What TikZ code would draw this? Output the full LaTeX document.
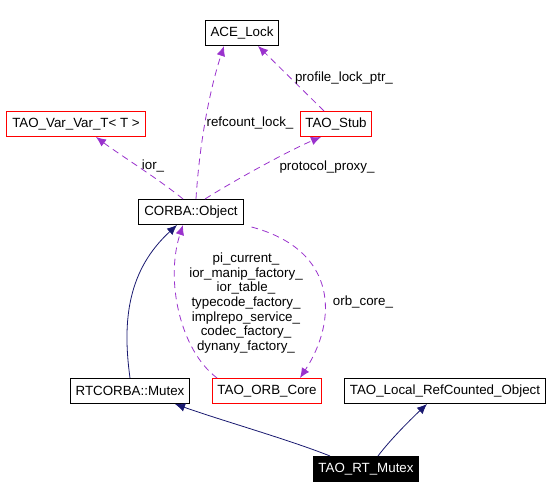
\documentclass[tikz,border=0pt]{standalone}
\usepackage{fontspec}
\setmainfont{Liberation Sans}
\usetikzlibrary{arrows.meta,calc}
\definecolor{usecolor}{HTML}{9A32CD}
\definecolor{inhcolor}{HTML}{191970}
\begin{document}
\begin{tikzpicture} [
  x=0.75pt, y=-0.75pt,
  every node/.style={font=\fontsize{10}{12}\selectfont},
  cls/.style={draw, rectangle, inner xsep=4pt, inner ysep=0pt,
    minimum height=18.75pt, line width=0.75pt},
  redcls/.style={cls, draw=red},
  thiscls/.style={cls, fill=black, text=white},
  usage/.style={draw=usecolor, line width=0.6pt, dash pattern=on 5pt off 3.5pt,
    -{Latex[length=7.5pt,width=6.5pt]}},
  inherit/.style={draw=inhcolor, line width=0.6pt,
    -{Latex[length=7.5pt,width=6.5pt]}},
  lbl/.style={inner sep=0pt}]
\useasboundingbox (0,0) rectangle (554,499);
% classes
\node[cls] (lock) at (242,33) {ACE\_Lock};
\node[redcls] (varvar) at (76,124) {TAO\_Var\_Var\_T< T >};
\node[redcls] (stub) at (336,124) {TAO\_Stub};
\node[cls] (object) at (191,212) {CORBA::Object};
\node[cls] (rtmutex) at (130,391) {RTCORBA::Mutex};
\node[redcls] (orbcore) at (267,391) {TAO\_ORB\_Core};
\node[cls] (localref) at (445,391) {TAO\_Local\_RefCounted\_Object};
\node[thiscls] (taort) at (366,469) {TAO\_RT\_Mutex};
% member usage
\draw[usage] ($(object.north)+(5,0)$) .. controls (199,150) and (208,95) .. ($(lock.south)+(-18,0)$);
\draw[usage] ($(stub.north)+(-12,0)$) -- ($(lock.south)+(16,0)$);
\draw[usage] ($(object.north)+(-8,0)$) .. controls (160,180) and (120,155) .. ($(varvar.south)+(20,0)$);
\draw[usage] ($(object.north)+(14,0)$) .. controls (235,180) and (290,150) .. ($(stub.south)+(-15,0)$);
\draw[usage] ($(orbcore.north)+(-50,0)$) .. controls (180,350) and (165,280) .. ($(object.south)+(-8,0)$);
\draw[usage] ($(object.south east)+(8,2)$) .. controls (338,250) and (338,320) .. ($(orbcore.north)+(33,0)$);
\node[lbl] (lrefcount) at (250,123) {refcount\_lock\_};
\node[lbl] (lprofile) at (344,78) {profile\_lock\_ptr\_};
\node[lbl] (lior) at (153,166) {ior\_};
\node[lbl] (lproxy) at (327,167) {protocol\_proxy\_};
\node[lbl, align=center, font=\fontsize{10}{11}\selectfont] (lmembers) at (246,303)
  {pi\_current\_\\ior\_manip\_factory\_\\ior\_table\_\\typecode\_factory\_\\implrepo\_service\_\\codec\_factory\_\\dynany\_factory\_};
\node[lbl] (lorbcore) at (363,302) {orb\_core\_};
% inheritance
\draw[inherit] (rtmutex.north) .. controls (122,320) and (128,270) .. ($(object.south)+(-14,0)$);
\draw[inherit] ($(taort.north)+(-36,0)$) .. controls (290,440) and (220,420) .. ($(rtmutex.south)+(45,0)$);
\draw[inherit] ($(taort.north)+(12,0)$) .. controls (390,440) and (410,420) .. ($(localref.south)+(-18,0)$);
\end{tikzpicture}
\end{document}
